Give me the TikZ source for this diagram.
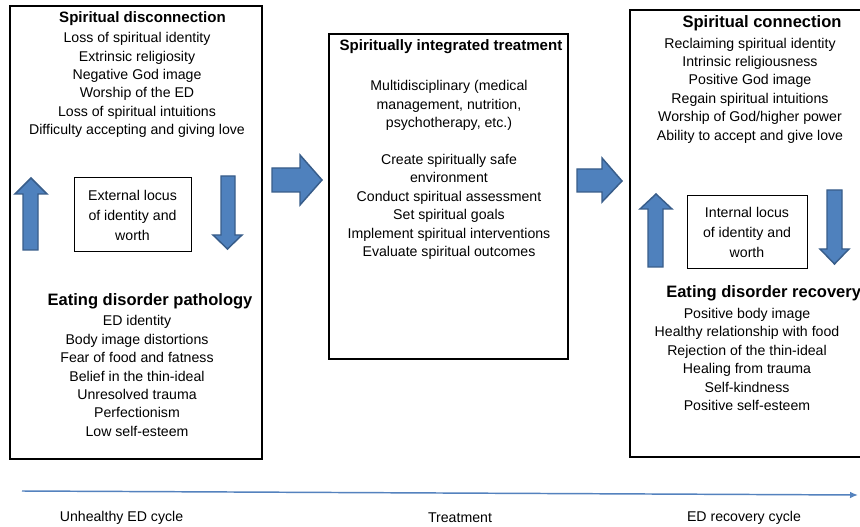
\documentclass[tikz,border=0pt]{standalone}
\usepackage{fontspec}
\setmainfont{Liberation Sans}
\usetikzlibrary{arrows.meta}
\definecolor{arrowfill}{RGB}{79,129,189}
\definecolor{arrowline}{RGB}{56,93,138}
\definecolor{timeblue}{RGB}{84,130,190}
\tikzset{
  panel/.style={draw=black,line width=0.9pt},
  locusbox/.style={draw=black,line width=0.75pt,align=center,inner sep=0pt,
    font=\fontsize{10.6}{15}\selectfont},
  heading/.style={inner sep=0pt,font=\fontsize{11.3}{13.8}\selectfont\bfseries},
  bigheading/.style={inner sep=0pt,font=\fontsize{12.4}{14}\selectfont\bfseries},
  items/.style={inner sep=0pt,align=center,font=\fontsize{10.6}{13.8}\selectfont},
  blockarrow/.style={fill=arrowfill,draw=arrowline,line width=1.1pt,line join=miter},
  cyclelabel/.style={inner sep=0pt,font=\fontsize{10.6}{13.8}\selectfont}
}
\begin{document}
\begin{tikzpicture}[x=0.75pt,y=-0.75pt]
	\clip (0,0) rectangle (860,527);
	\fill[white] (0,0) rectangle (860,527);

	% the three panels
	\draw[panel] (10,6) rectangle (262,459);
	\draw[panel] (329,34) rectangle (568,359);
	\draw[panel] (630,10) rectangle (866,457);

	% unhealthy cycle
	\node[heading] (discTitle) at (142.5,19) {Spiritual disconnection};
	\node[items] (discItems) at (137,85) {Loss of spiritual identity\\Extrinsic religiosity\\Negative God image\\Worship of the ED\\Loss of spiritual intuitions\\Difficulty accepting and giving love};
	\node[locusbox,minimum width=87.75pt,minimum height=55.5pt] (extLocus) at (132.5,215) {External locus\\of identity and\\worth};
	\node[bigheading] (pathTitle) at (150,301) {Eating disorder pathology};
	\node[items] (pathItems) at (137,376) {ED identity\\Body image distortions\\Fear of food and fatness\\Belief in the thin-ideal\\Unresolved trauma\\Perfectionism\\Low self-esteem};

	\draw[blockarrow] (23,250) -- (23,194) -- (15,194) -- (31,178) -- (47,194) -- (38,194) -- (38,250) -- cycle;
	\draw[blockarrow] (221,176) -- (235,176) -- (235,235) -- (242,235) -- (227.5,249) -- (213,235) -- (221,235) -- cycle;

	% treatment
	\node[heading] (treatTitle) at (451,47) {Spiritually integrated treatment};
	\node[items] (treatItems) at (449,170) {Multidisciplinary (medical\\management, nutrition,\\psychotherapy, etc.)\\[13.8pt]Create spiritually safe\\environment\\Conduct spiritual assessment\\Set spiritual goals\\Implement spiritual interventions\\Evaluate spiritual outcomes};

	\draw[blockarrow] (272,168) -- (300,168) -- (300,155) -- (322,180) -- (300,205) -- (300,192) -- (272,192) -- cycle;
	\draw[blockarrow] (577,169) -- (602,169) -- (602,158) -- (622,181) -- (602,202) -- (602,192) -- (577,192) -- cycle;

	% recovery cycle
	\node[bigheading] (connTitle) at (762,23) {Spiritual connection};
	\node[items] (connItems) at (750,90.5) {Reclaiming spiritual identity\\Intrinsic religiousness\\Positive God image\\Regain spiritual intuitions\\Worship of God/higher power\\Ability to accept and give love};
	\node[locusbox,minimum width=90pt,minimum height=54.75pt] (intLocus) at (747,232.5) {Internal locus\\of identity and\\worth};
	\node[bigheading,anchor=west] (recTitle) at (666,293) {Eating disorder recovery};
	\node[items] (recItems) at (747,359.5) {Positive body image\\Healthy relationship with food\\Rejection of the thin-ideal\\Healing from trauma\\Self-kindness\\Positive self-esteem};

	\draw[blockarrow] (648,267) -- (648,209) -- (640,209) -- (656,194) -- (672,209) -- (663,209) -- (663,267) -- cycle;
	\draw[blockarrow] (827,190) -- (842,190) -- (842,249) -- (849,249) -- (834.5,264) -- (820,249) -- (827,249) -- cycle;

	% time line
	\coordinate (lineStart) at (22,491);
	\coordinate (lineEnd) at (858,495);
	\draw[timeblue,line width=1.1pt,-{Latex[length=6pt,width=5pt]}] (lineStart) -- (lineEnd);
	\node[cyclelabel] (unhealthy) at (121.5,518) {Unhealthy ED cycle};
	\node[cyclelabel] (treatment) at (460,518) {Treatment};
	\node[cyclelabel] (recovery) at (744,518) {ED recovery cycle};
\end{tikzpicture}
\end{document}
